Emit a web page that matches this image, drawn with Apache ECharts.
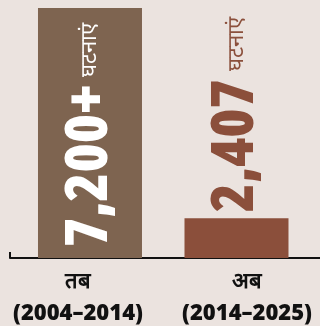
<!DOCTYPE html>
<html>
<head>
<meta charset="utf-8">
<script src="https://cdn.jsdelivr.net/npm/echarts@6/dist/echarts.min.js"></script>
<style>
  html, body { margin: 0; padding: 0; background: #ebe3df; }
  #chart { width: 320px; height: 326px; }
</style>
</head>
<body>
<div id="chart"></div>
<script>
// Period labels under the bars
const periods = ['तब\n(2004–2014)', 'अब\n(2014–2025)'];
// Number of incidents per period
const incidents = [7200, 2407];
// Suffix printed after each number
const suffixes = ['+', ''];
const unitText = 'घटनाएं';

const barColors = ['#7e6450', '#8b4f3b'];
const textFont = '"Open Sans", sans-serif';

function fmt(n) {
  return n.toLocaleString('en-US');
}

const chart = echarts.init(document.getElementById('chart'), null, { renderer: 'canvas' });

// Rotated value label: big number followed by the unit word
function valueLabel(position, color, shift) {
  return {
    show: true,
    position: position,
    rotate: 90,
    align: 'left',
    verticalAlign: 'middle',
    distance: 8,
    offset: [shift, 0],
    formatter: p => '{big|' + fmt(p.value[1]) + suffixes[p.dataIndex] + '}{small|' + unitText + '}',
    rich: {
      big: { fontFamily: textFont, fontStyle: 'condensed', fontWeight: 800, fontSize: 59, color: color },
      small: { fontSize: 22, color: color, padding: [0, 0, 0, 8] }
    }
  };
}

const seriesData = incidents.map((v, i) => ({
  value: [i, v],
  itemStyle: { color: barColors[i] },
  label: i === 0 ? valueLabel('insideBottom', '#ffffff', 3) : valueLabel('top', barColors[1], -2)
}));

chart.setOption({
  backgroundColor: '#ebe3df',
  animation: false,
  grid: { left: 10, right: 0, top: 8, bottom: 68, outerBoundsMode: 'none' },
  xAxis: {
    type: 'value',
    min: -0.546,
    max: 1.57,
    splitLine: { show: false },
    axisLine: { show: true, onZero: false, lineStyle: { color: '#111111', width: 2 } },
    axisTick: {
      show: true,
      inside: true,
      length: 6,
      customValues: [-0.546],
      lineStyle: { color: '#111111', width: 2 }
    },
    axisLabel: {
      show: true,
      customValues: [-0.082, 1.072],
      margin: 8,
      formatter: v => periods[v < 0.5 ? 0 : 1],
      color: '#111111',
      fontFamily: textFont,
      fontWeight: 800,
      fontSize: 22,
      lineHeight: 32
    }
  },
  yAxis: {
    type: 'value',
    min: 1500,
    max: 7200,
    show: false
  },
  series: [{
    type: 'bar',
    barWidth: 104,
    data: seriesData
  }]
});
</script>
</body>
</html>
